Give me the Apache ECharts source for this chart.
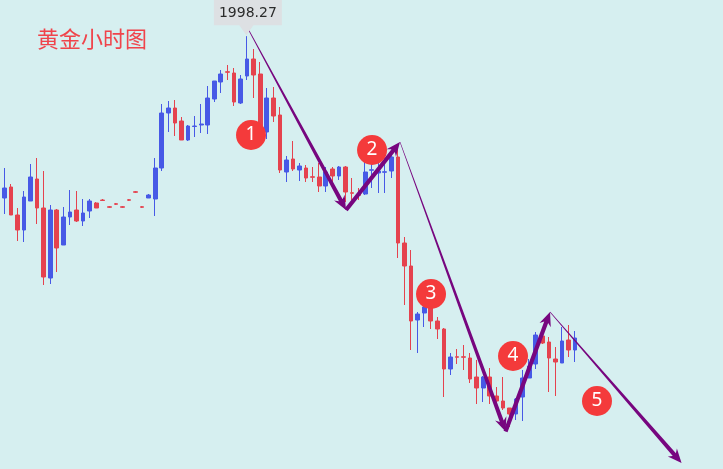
<!DOCTYPE html>
<html><head><meta charset="utf-8">
<script src="https://cdn.jsdelivr.net/npm/echarts/dist/echarts.min.js"></script>
<style>html,body{margin:0;padding:0;background:#d6eff0}#c{width:723px;height:469px}</style>
</head><body><div id="c"></div>
<script>
// hourly gold candles: open / close / low / high
const openVals = [1963.7,1965.9,1968.1,1962.5,1959.5,1965.3,1969.7,1963.9,1949.9,1963.5,
 1956.5,1962.1,1963.5,1961.3,1963.3,1964.9,1965.5,1964.15,1964.75,1964.15,
 1965.55,1967.15,1964.15,1965.9,1965.7,1971.9,1982.9,1983.9,1981.3,1977.5,
 1980.2,1980.5,1980.5,1985.7,1989.1,1991.15,1990.9,1984.9,1990.3,1993.7,
 1990.7,1979.1,1985.9,1982.5,1971.1,1973.7,1971.5,1971.9,1970.15,1970.1,
 1968.3,1971.7,1970.3,1972.1,1966.95,1966.55,1966.7,1971.45,1970.9,1971.05,
 1971.3,1974.1,1956.9,1952.3,1941.5,1942.9,1944.1,1941.3,1939.7,1931.7,
 1934.15,1934.15,1933.9,1930.1,1927.9,1930.1,1926.3,1925.3,1923.9,1922.7,
 1926.1,1929.9,1932.7,1938.3,1937.1,1933.7,1932.9,1937.5,1935.5];
const closeVals = [1965.3,1967.9,1962.5,1959.5,1966.1,1970.1,1963.9,1950.1,1963.5,1955.9,
 1962.1,1963.1,1961.3,1962.9,1965.3,1963.9,1965.4,1964.05,1964.65,1964.05,
 1965.45,1967.05,1964.05,1966.5,1971.9,1982.9,1983.9,1980.9,1977.5,1980.3,
 1980.3,1980.7,1985.9,1989.3,1990.7,1991.05,1985.1,1989.7,1993.7,1990.5,
 1979.5,1985.9,1982.3,1971.5,1973.5,1971.7,1972.3,1969.9,1970.05,1968.3,
 1971.1,1970.3,1972.1,1967.1,1966.85,1966.45,1971.1,1971.55,1971.3,1971.15,
 1974.1,1956.9,1952.3,1941.3,1942.7,1944.1,1941.3,1939.7,1931.7,1934.1,
 1934.05,1934.05,1929.7,1927.9,1930.1,1926.3,1925.3,1923.9,1922.7,1925.7,
 1929.9,1932.3,1938.5,1936.9,1933.9,1933.1,1937.3,1935.5,1937.9];
const lowVals = [1962.9,1962.7,1962.5,1957.3,1957.1,1965.3,1960.7,1948.5,1948.7,1951.1,
 1956.5,1960.5,1961.1,1960.3,1961.9,1963.9,1965.3,1963.9,1964.5,1963.9,
 1965.3,1966.9,1963.9,1965.9,1962.3,1971.3,1979.1,1978.3,1977.5,1977.3,
 1978.1,1978.9,1978.7,1985.1,1986.9,1989.5,1984.3,1984.7,1989.5,1985.9,
 1978.9,1977.7,1981.1,1970.9,1969.1,1971.3,1969.3,1969.1,1969.1,1967.1,
 1967.1,1969.1,1969.5,1965.1,1965.5,1965.5,1966.5,1967.9,1966.9,1966.9,
 1969.9,1953.9,1944.5,1935.5,1934.9,1940.1,1939.7,1937.7,1926.1,1930.5,
 1932.7,1931.5,1928.9,1924.7,1925.1,1924.7,1924.5,1923.5,1920.1,1921.5,
 1921.3,1929.9,1931.7,1936.7,1927.1,1926.3,1932.9,1934.1,1933.1];
const highVals = [1966.5,1971.9,1968.7,1963.9,1967.3,1972.7,1973.9,1971.3,1964.5,1963.7,
 1964.1,1967.5,1967.3,1965.7,1965.7,1965.1,1965.7,1964.3,1964.9,1964.3,
 1965.7,1967.3,1964.3,1966.7,1973.9,1984.7,1985.3,1985.5,1982.1,1980.5,
 1982.3,1984.7,1988.3,1989.3,1991.5,1992.5,1991.9,1990.5,1998.27,1995.7,
 1993.1,1987.9,1988.1,1984.1,1974.3,1977.3,1972.9,1972.5,1972.1,1972.9,
 1972.1,1972.1,1972.3,1972.3,1969.9,1967.9,1973.1,1973.1,1973.1,1973.9,
 1974.9,1976.5,1958.1,1955.5,1943.1,1944.5,1944.3,1942.1,1939.9,1934.9,
 1935.7,1936.5,1934.9,1933.5,1930.3,1931.9,1928.1,1930.1,1923.9,1925.9,
 1931.5,1933.7,1939.1,1938.9,1938.1,1936.1,1940.1,1940.5,1939.3];
const categories = Array.from({length: 111}, (_, i) => 'H' + i);

// wave arrows (category index, price)
const arrowStartIdx   = [38.0, 53.08, 61.31, 77.4, 84.18];
const arrowStartPrice = [2000.1, 1963.5, 1977.1, 1919.2, 1943.1];
const arrowEndIdx     = [53.08, 61.31, 77.4, 84.18, 104.23];
const arrowEndPrice   = [1963.5, 1977.1, 1919.2, 1943.1, 1912.9];
const arrowTapered    = [true, false, true, false, true];

// numbered wave markers
const markerIdx   = [38.6, 57.05, 66.04, 78.54, 91.34];
const markerPrice = [1978.5, 1975.5, 1946.7, 1934.3, 1925.3];
const markerText  = ['1', '2', '3', '4', '5'];

const peakIdx = 38, peakPrice = 1998.27;

const candleData = openVals.map((o, i) => [o, closeVals[i], lowVals[i], highVals[i]]);
const arrowData = arrowStartIdx.map((x, i) => [x, arrowStartPrice[i], arrowEndIdx[i], arrowEndPrice[i], arrowTapered[i] ? 1 : 0]);
const markerData = markerIdx.map((x, i) => ({value: [x, markerPrice[i]], name: markerText[i]}));

const chart = echarts.init(document.getElementById('c'), null, {renderer: 'canvas'});

function renderArrow(params, api) {
  const a = api.coord([api.value(0), api.value(1)]);
  const b = api.coord([api.value(2), api.value(3)]);
  const tapered = api.value(4) === 1;
  const w1 = tapered ? 0.6 : 4.2, w2 = 4.2;
  const dx = b[0] - a[0], dy = b[1] - a[1];
  const len = Math.hypot(dx, dy);
  const ux = dx / len, uy = dy / len, nx = -uy, ny = ux;
  const L = 14, H = 6, back = 11;
  const bx = b[0] - ux * back, by = b[1] - uy * back;
  const hx = b[0] - ux * L, hy = b[1] - uy * L;
  const pts = [
    [a[0] + nx * w1 / 2, a[1] + ny * w1 / 2],
    [bx + nx * w2 / 2, by + ny * w2 / 2],
    [hx + nx * H, hy + ny * H],
    [b[0], b[1]],
    [hx - nx * H, hy - ny * H],
    [bx - nx * w2 / 2, by - ny * w2 / 2],
    [a[0] - nx * w1 / 2, a[1] - ny * w1 / 2]
  ];
  return {type: 'polygon', shape: {points: pts}, style: {fill: '#77067f'}};
}

function renderTag(params, api) {
  const p = api.coord([api.value(0), api.value(1)]);
  const tipX = p[0] - 0.7, tipY = p[1] - 1;
  const cx = tipX + 1.5, bottom = tipY - 10, top = tipY - 40;
  const pts = [[cx - 34, top], [cx + 34, top], [cx + 34, bottom], [tipX + 7, bottom],
               [tipX, tipY], [tipX - 7, bottom], [cx - 34, bottom]];
  return {type: 'group', children: [
    {type: 'polygon', shape: {points: pts}, style: {fill: '#dde0e3'}},
    {type: 'text', style: {text: api.value(1).toFixed(2), x: cx, y: bottom - 11.5,
      align: 'center', verticalAlign: 'middle', fill: '#2b2b2b', fontSize: 14,
      fontFamily: 'DejaVu Sans'}}
  ]};
}

chart.setOption({
  animation: false,
  backgroundColor: '#d6eff0',
  title: {text: '黄金小时图', left: 37, top: 28, padding: 0,
    textStyle: {color: '#f0444b', fontSize: 22, fontWeight: 'normal', fontFamily: 'Noto Sans CJK SC'}},
  grid: {left: -5.5, width: 728.2, top: 0, bottom: 0, containLabel: false, outerBoundsMode: 'none'},
  xAxis: [
    {type: 'category', data: categories, show: false, boundaryGap: true},
    {type: 'value', min: -0.5, max: 110.5, show: false}
  ],
  yAxis: {type: 'value', min: 1911.7, max: 2005.5, show: false},
  series: [
    {type: 'candlestick', data: candleData, barWidth: 4.2, z: 2,
      itemStyle: {color: '#4759e6', color0: '#e5424e', borderColor: '#4759e6', borderColor0: '#e5424e', borderWidth: 1}},
    {type: 'custom', xAxisIndex: 1, renderItem: renderArrow, data: arrowData, z: 3,
      encode: {x: [0, 2], y: [1, 3]}, silent: true},
    {type: 'custom', xAxisIndex: 1, renderItem: renderTag, data: [[peakIdx, peakPrice]], z: 4,
      encode: {x: 0, y: 1}, silent: true},
    {type: 'scatter', xAxisIndex: 1, data: markerData, symbolSize: 30, z: 5,
      itemStyle: {color: '#f43a3b', opacity: 1},
      label: {show: true, position: 'inside', formatter: '{b}', color: '#fff', fontSize: 19,
        fontFamily: 'Noto Sans', fontWeight: 'normal'}}
  ]
});
</script></body></html>
